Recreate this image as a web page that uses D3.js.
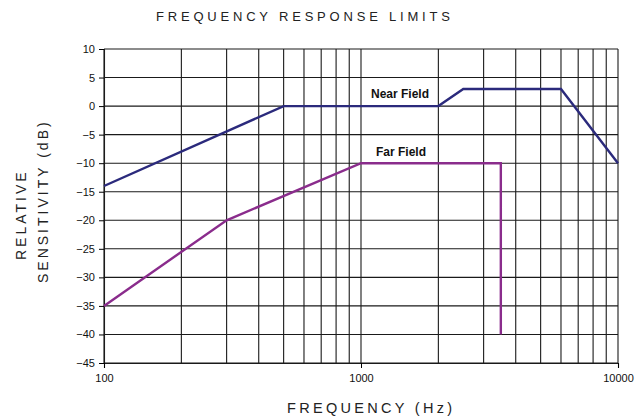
<!DOCTYPE html>
<html><head><meta charset="utf-8">
<script src="https://cdn.jsdelivr.net/npm/d3@7"></script>
<style>body{margin:0;background:#fff}svg{display:block}</style>
</head><body>
<svg id="c" width="635" height="419"></svg>
<script>
const yTicks = [10,5,0,-5,-10,-15,-20,-25,-30,-35,-40,-45];
const xTickLabels = [100,1000,10000];
const nearFreq = [100,500,2000,2500,6000,10000];
const nearDb   = [-14,0,0,3,3,-10];
const farFreq  = [100,300,1000,3500,3500];
const farDb    = [-35,-20,-10,-10,-40];

const svg = d3.select("#c");
const L=104, R=618, T=49, B=363;
const x = d3.scaleLog().domain([100,10000]).range([L,R]);
const y = d3.scaleLinear().domain([-45,10]).range([B,T]);
const font = "Liberation Sans, Arial, sans-serif";

const gridX = [];
for (let d=100; d<10000; d*=10) for (let m=1; m<=9; m++) gridX.push(d*m);
gridX.push(10000);

const g = svg.append("g");
g.selectAll("line.gx").data(gridX).enter().append("line")
  .attr("x1",d=>x(d)).attr("x2",d=>x(d)).attr("y1",T).attr("y2",B)
  .attr("stroke","#1a1a1a").attr("stroke-width",1.1);
g.selectAll("line.gy").data(yTicks).enter().append("line")
  .attr("x1",L).attr("x2",R).attr("y1",d=>y(d)).attr("y2",d=>y(d))
  .attr("stroke","#1a1a1a").attr("stroke-width",1.1);

const ya = d3.axisLeft(y).tickValues(yTicks).tickSize(5).tickPadding(4).tickFormat(d3.format("d"));
const yg = svg.append("g").attr("transform",`translate(${L},0)`).call(ya);
yg.select(".domain").attr("stroke","#1a1a1a").attr("stroke-width",1.1);
yg.selectAll("text").attr("font-family",font).attr("font-size",11).attr("fill","#111");

const xa = d3.axisBottom(x).tickValues(xTickLabels).tickSize(5).tickPadding(6).tickFormat(d3.format("d"));
const xg = svg.append("g").attr("transform",`translate(0,${B})`).call(xa);
xg.select(".domain").attr("stroke","#1a1a1a").attr("stroke-width",1.1);
xg.selectAll("text").attr("font-family",font).attr("font-size",11).attr("fill","#111");

const line = d3.line().x(d=>x(d[0])).y(d=>y(d[1]));
svg.append("path").datum(nearFreq.map((f,i)=>[f,nearDb[i]]))
  .attr("d",line).attr("fill","none").attr("stroke","#2b2a7c").attr("stroke-width",2.4);
svg.append("path").datum(farFreq.map((f,i)=>[f,farDb[i]]))
  .attr("d",line).attr("fill","none").attr("stroke","#8a2c8c").attr("stroke-width",2.4);

svg.append("text").attr("x",400).attr("y",98).attr("text-anchor","middle")
  .attr("font-family",font).attr("font-weight","bold").attr("font-size",12).attr("fill","#111").text("Near Field");
svg.append("text").attr("x",401).attr("y",156).attr("text-anchor","middle")
  .attr("font-family",font).attr("font-weight","bold").attr("font-size",12).attr("fill","#111").text("Far Field");

svg.append("text").attr("x",156).attr("y",21)
  .attr("font-family",font).attr("font-size",13).attr("letter-spacing",3.8).attr("fill","#222").text("FREQUENCY RESPONSE LIMITS");
svg.append("text").attr("x",287).attr("y",413)
  .attr("font-family",font).attr("font-size",14.5).attr("letter-spacing",3.3).attr("fill","#222").text("FREQUENCY (Hz)");
svg.append("text").attr("transform","translate(26,260) rotate(-90)")
  .attr("font-family",font).attr("font-size",14).attr("letter-spacing",3).attr("fill","#222").text("RELATIVE");
svg.append("text").attr("transform","translate(48,283) rotate(-90)")
  .attr("font-family",font).attr("font-size",14).attr("letter-spacing",3).attr("fill","#222").text("SENSITIVITY (dB)");
</script>
</body></html>
